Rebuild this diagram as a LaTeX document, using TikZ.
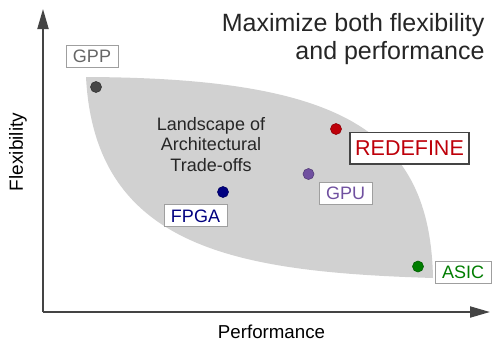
\documentclass[tikz,border=0pt]{standalone}
\usepackage{fontspec}
\setmainfont{Liberation Sans}
\usetikzlibrary{arrows.meta}
\definecolor{axisgray}{RGB}{68,68,68}
\definecolor{regiongray}{RGB}{209,209,209}
\definecolor{gppgray}{RGB}{70,70,70}
\definecolor{redefred}{RGB}{190,0,10}
\definecolor{gpupurple}{RGB}{112,80,160}
\definecolor{fpganavy}{RGB}{0,0,128}
\definecolor{asicgreen}{RGB}{0,125,0}
\newcommand\sizedfont[1]{\fontsize{#1}{#1}\selectfont}

\begin{document}
\begin{tikzpicture}[
    x=1pt, y=-1pt,
    axis/.style={
      draw=axisgray, line width=2pt,
      -{Triangle[length=20pt,width=11pt]}
    },
    dot/.style={
      circle, inner sep=0pt, minimum size=11pt,
      fill=#1, draw=#1!75!black, line width=0.6pt
    },
    tag/.style={
      draw=gray!75, fill=white, line width=0.8pt,
      inner xsep=7pt, inner ysep=4.5pt,
      text height=13pt, text depth=0pt,
      font=\sizedfont{18pt}
    }
  ]
    \useasboundingbox (0,0) rectangle (492,341);

    % trade-off region
    \fill[regiongray] (86,77) .. controls (340,78) and (430,130) .. (433,278)
      .. controls (240,272) and (95,250) .. (86,77);

    \coordinate (origin) at (43,312);
    \coordinate (ytip) at (43,9);
    \coordinate (xtip) at (490,312);
    \draw[axis] (origin) -- (ytip);
    \draw[axis] (origin) -- (xtip);

    \node[rotate=90, font=\sizedfont{19pt}] (flexlabel) at (18,152) {Flexibility};
    \node[anchor=base, inner sep=0pt, font=\sizedfont{18.7pt}] (perflabel) at (271.5,338.5) {Performance};

    \node[anchor=base east, font=\sizedfont{25pt}, text=black!85] (title1) at (488,31) {Maximize both flexibility};
    \node[anchor=base east, font=\sizedfont{25pt}, text=black!85] (title2) at (488,59) {and performance};

    \node[align=center, font=\fontsize{18pt}{20.5pt}\selectfont, text=black!85, anchor=base]
      (landscape) at (211,171) {Landscape of\\Architectural\\Trade-offs};

    \node[dot=gppgray] (gpp) at (96,87) {};
    \node[dot=redefred] (redefine) at (336,129) {};
    \node[dot=gpupurple] (gpu) at (308.5,174) {};
    \node[dot=fpganavy] (fpga) at (223,192) {};
    \node[dot=asicgreen] (asic) at (418,266.5) {};

    \node[tag, text=gray!80!black] (gpptag) at (92,56) {GPP};
    \node[tag, text=redefred, draw=axisgray, line width=1.6pt, font=\sizedfont{21.5pt},
      text height=15.4pt, inner xsep=5pt, inner ysep=8pt] (redefinetag) at (409.5,148) {REDEFINE};
    \node[tag, text=gpupurple] (gputag) at (345.5,193) {GPU};
    \node[tag, text=fpganavy] (fpgatag) at (195.5,215.5) {FPGA};
    \node[tag, text=asicgreen] (asictag) at (463,272) {ASIC};
\end{tikzpicture}
\end{document}
